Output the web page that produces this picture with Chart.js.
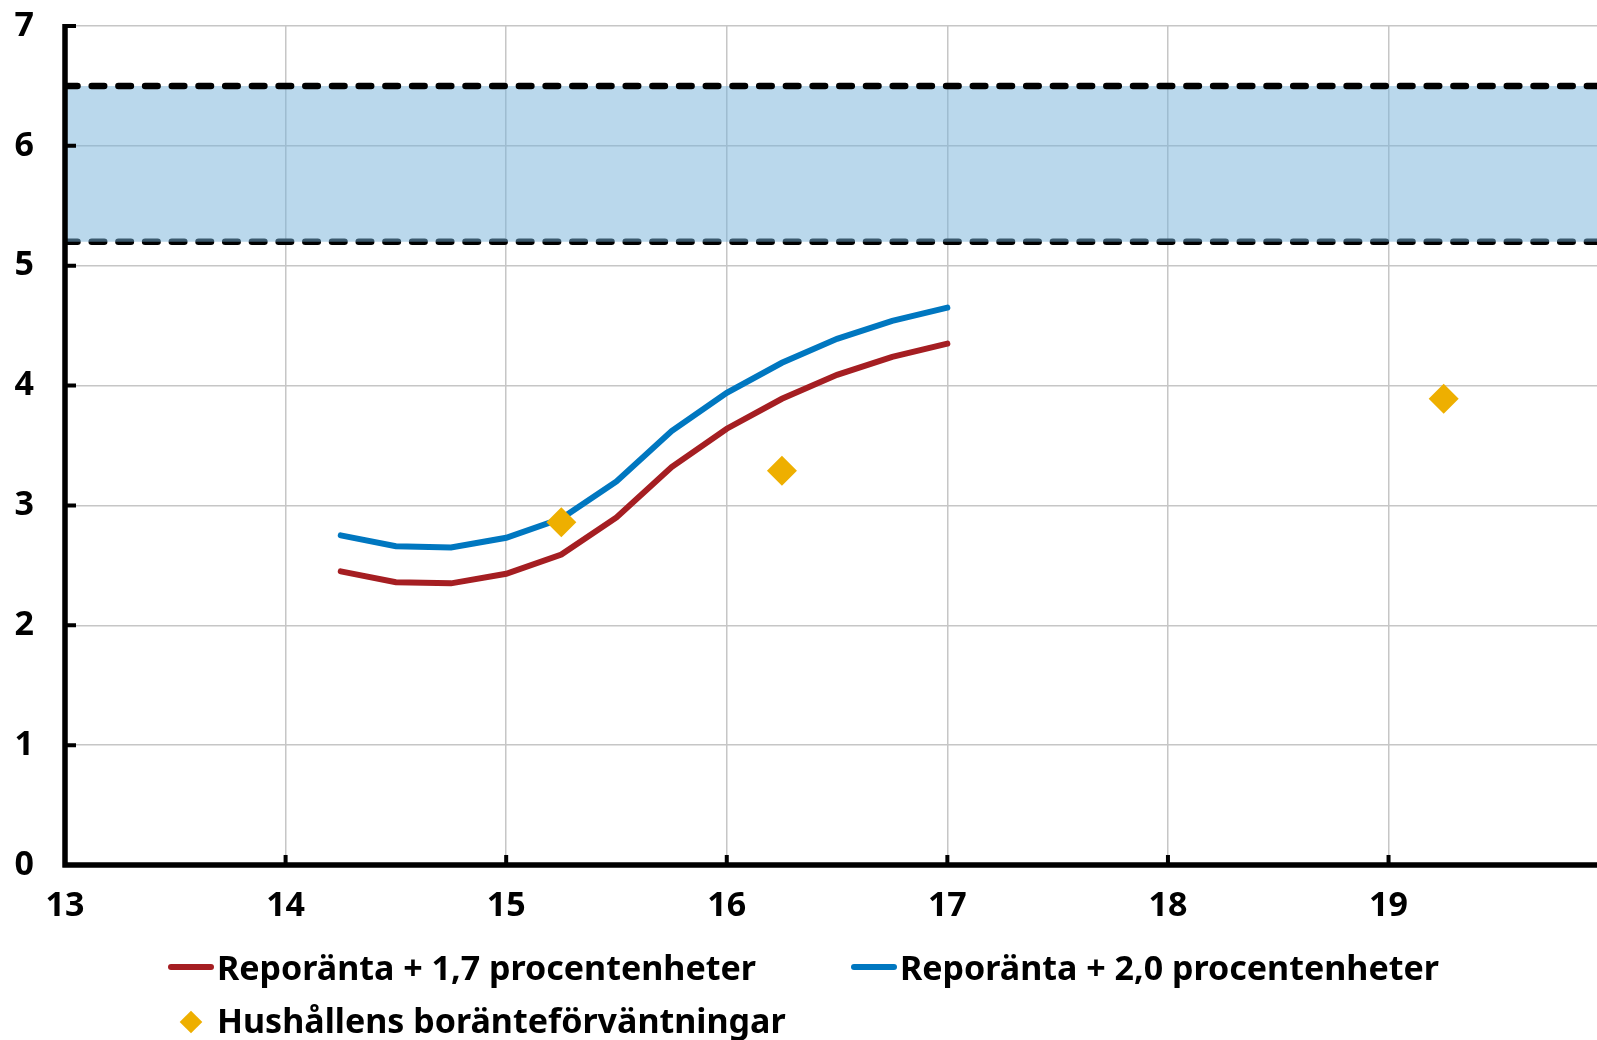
<!DOCTYPE html>
<html>
<head>
<meta charset="utf-8">
<script src="https://cdn.jsdelivr.net/npm/chart.js@4.4.1/dist/chart.umd.min.js"></script>
<style>
  html, body { margin: 0; padding: 0; background: #fff; }
  #wrap { position: relative; width: 1597px; height: 1040px; overflow: hidden; }
  #chart { position: absolute; left: 0; top: 0; }
  .item { position: absolute; height: 48px; line-height: 48px; display: flex; align-items: center;
          font: bold 34px "Noto Sans", sans-serif; color: #000; white-space: nowrap; }
  .swatch { display: inline-block; width: 46px; height: 6px; border-radius: 3px; margin-right: 3px; }
  .diamond { display: inline-block; width: 16px; height: 16px; transform: translateY(2px) rotate(45deg); margin: 0 18px 0 8px; }
</style>
</head>
<body>
<div id="wrap">
  <canvas id="chart" width="1597" height="1040"></canvas>
  <div id="legend"></div>
</div>
<script>
// kvartal (år + andel)
const quarters = [14.25, 14.5, 14.75, 15, 15.25, 15.5, 15.75, 16, 16.25, 16.5, 16.75, 17];
const repoPlus17 = [2.45, 2.36, 2.35, 2.43, 2.59, 2.90, 3.32, 3.64, 3.89, 4.09, 4.24, 4.35];
const repoPlus20 = [2.75, 2.66, 2.65, 2.73, 2.89, 3.20, 3.62, 3.94, 4.19, 4.39, 4.54, 4.65];

// hushållens förväntningar
const surveyX = [15.25, 16.25, 19.25];
const surveyY = [2.86, 3.29, 3.89];

// intervall (streckade linjer)
const bandUpper = 6.5;
const bandLower = 5.2;

const xRange = [13, 19.945];
const yRange = [0, 7];

const labels = ['Reporänta + 1,7 procentenheter', 'Reporänta + 2,0 procentenheter', 'Hushållens boränteförväntningar'];
const colors = ['#a51e22', '#0077c0', '#eeaf00'];

const font = { family: '"Noto Sans", sans-serif', size: 34, weight: 'bold' };

const toPoints = (xs, ys) => xs.map((x, i) => ({ x: x, y: ys[i] }));

// egna axlar med korta streck inåt
const axisPlugin = {
  id: 'axisLines',
  afterDraw(chart) {
    const { ctx, scales: { x, y } } = chart;
    const x0 = x.getPixelForValue(xRange[0]);
    const y0 = y.getPixelForValue(yRange[0]);
    const yTop = y.getPixelForValue(yRange[1]);
    ctx.save();
    ctx.strokeStyle = '#000';
    ctx.lineWidth = 5.5;
    ctx.beginPath();
    ctx.moveTo(x0, yTop - 2);
    ctx.lineTo(x0, y0 + 2.5);
    ctx.moveTo(x0 - 2.5, y0);
    ctx.lineTo(chart.width, y0);
    ctx.stroke();
    ctx.lineWidth = 4;
    ctx.beginPath();
    y.ticks.forEach(t => {
      const py = y.getPixelForValue(t.value);
      ctx.moveTo(x0, py);
      ctx.lineTo(x0 + 11, py);
    });
    x.ticks.forEach(t => {
      const px = x.getPixelForValue(t.value);
      ctx.moveTo(px, y0);
      ctx.lineTo(px, y0 - 10);
    });
    ctx.stroke();
    ctx.restore();
  }
};

const bandLine = {
  borderColor: '#000',
  borderWidth: 6.5,
  borderDash: [12.5, 14.2],
  borderCapStyle: 'round',
  pointRadius: 0,
  showLine: true
};

new Chart(document.getElementById('chart'), {
  type: 'scatter',
  data: {
    datasets: [
      {
        label: labels[2],
        data: toPoints(surveyX, surveyY),
        pointStyle: 'rectRot',
        pointRadius: 15,
        pointHoverRadius: 15,
        backgroundColor: colors[2],
        borderWidth: 0,
        order: 0
      },
      {
        label: labels[1],
        data: toPoints(quarters, repoPlus20),
        showLine: true,
        borderColor: colors[1],
        borderWidth: 6,
        borderCapStyle: 'round',
        pointRadius: 0,
        order: 1
      },
      {
        label: labels[0],
        data: toPoints(quarters, repoPlus17),
        showLine: true,
        borderColor: colors[0],
        borderWidth: 6,
        borderCapStyle: 'round',
        pointRadius: 0,
        order: 2
      },
      Object.assign({
        label: 'upper',
        data: toPoints(xRange, [bandUpper, bandUpper]),
        fill: '+1',
        backgroundColor: 'rgba(117, 177, 217, 0.5)',
        order: 3
      }, bandLine),
      Object.assign({
        label: 'lower',
        data: toPoints(xRange, [bandLower, bandLower]),
        fill: false,
        order: 4
      }, bandLine)
    ]
  },
  options: {
    responsive: false,
    animation: false,
    layout: { autoPadding: false, padding: { top: 26, right: 0, left: 0, bottom: 0 } },
    plugins: {
      legend: { display: false },
      tooltip: { enabled: false }
    },
    scales: {
      x: {
        type: 'linear',
        min: xRange[0],
        max: xRange[1],
        ticks: { stepSize: 1, includeBounds: false, color: '#000', font: font, padding: 21 },
        grid: { color: '#c6c6c6', lineWidth: 1.5, drawTicks: false },
        border: { display: false },
        afterFit: s => { s.height = 175; s.paddingLeft = 0; s.paddingRight = 0; }
      },
      y: {
        min: yRange[0],
        max: yRange[1],
        ticks: { stepSize: 1, color: '#000', font: font, padding: 31 },
        grid: { color: '#c6c6c6', lineWidth: 1.5, drawTicks: false },
        border: { display: false },
        afterFit: s => { s.width = 65; s.paddingTop = 0; s.paddingBottom = 0; }
      }
    }
  },
  plugins: [axisPlugin]
});

// förklaring
const legendItems = [
  { left: 168, top: 943, type: 'line', i: 0 },
  { left: 851, top: 943, type: 'line', i: 1 },
  { left: 175, top: 996, type: 'point', i: 2 }
];
const legendEl = document.getElementById('legend');
legendItems.forEach(it => {
  const d = document.createElement('div');
  d.className = 'item';
  d.style.left = it.left + 'px';
  d.style.top = it.top + 'px';
  const mark = document.createElement('span');
  mark.className = it.type === 'line' ? 'swatch' : 'diamond';
  mark.style.background = colors[it.i];
  d.appendChild(mark);
  d.appendChild(document.createTextNode(labels[it.i]));
  legendEl.appendChild(d);
});
</script>
</body>
</html>
